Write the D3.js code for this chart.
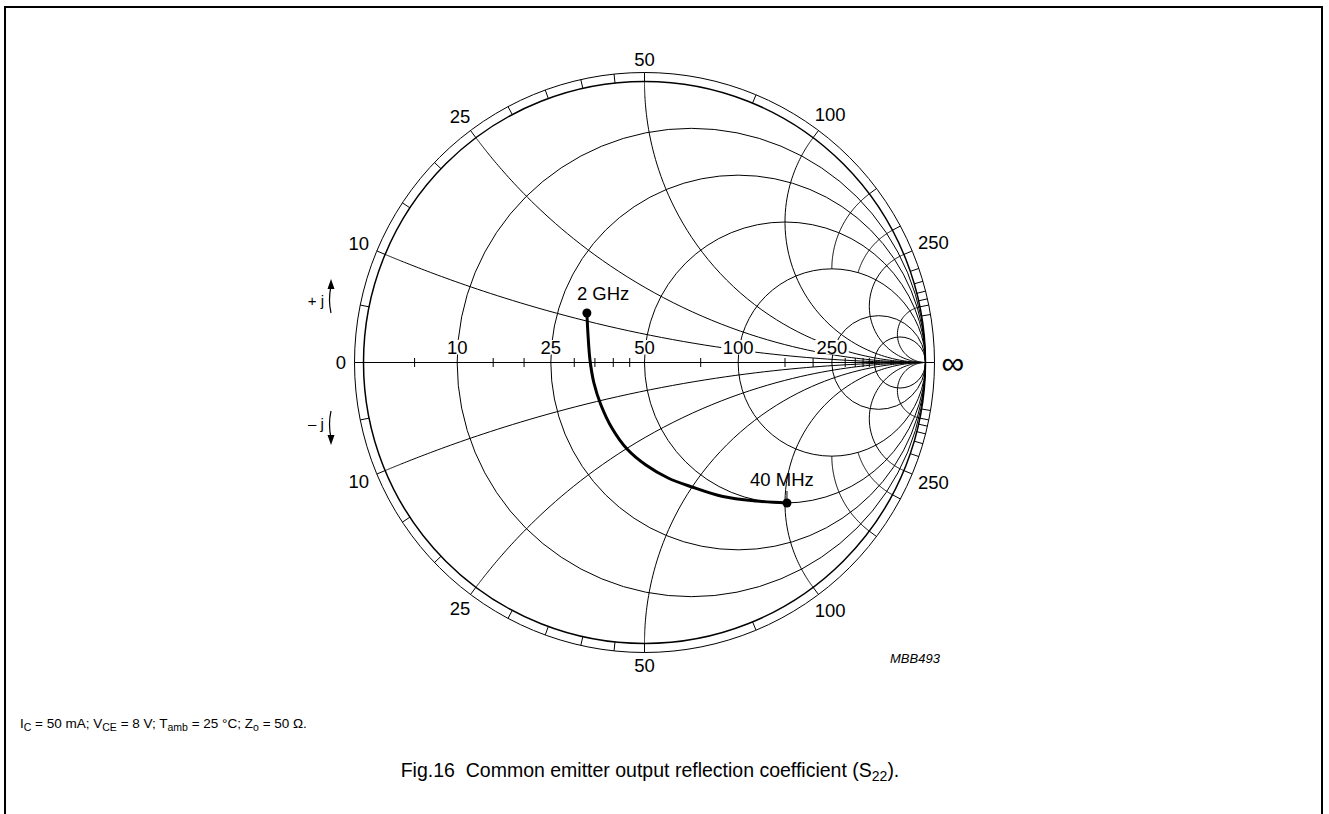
<!DOCTYPE html>
<html>
<head>
<meta charset="utf-8">
<script src="https://cdn.jsdelivr.net/npm/d3@7"></script>
<style>
body { margin: 0; background: #fff; }
svg { font-family: "Liberation Sans", Arial, sans-serif; }
</style>
</head>
<body>
<div id="chart"></div>
<script>
// S22 measured curve (reflection coefficient, real / imag), from 2 GHz down to 40 MHz
const S22_RE = [-0.205, -0.201, -0.194, -0.180, -0.155, -0.116, -0.062, 0.005, 0.084, 0.169, 0.279, 0.397, 0.507];
const S22_IM = [0.176, 0.098, 0.009, -0.073, -0.151, -0.233, -0.308, -0.365, -0.411, -0.443, -0.477, -0.493, -0.500];
const FREQ_LABELS = ["2 GHz", "40 MHz"];

// Smith chart grid, in ohms (Zo = 50)
const Z0 = 50;
const R_CIRCLES = [10, 25, 50, 100, 250, 500];
const X_ARCS = [10, 25, 50, 100, 250, 500];
const X_SHORT = [150, 200];
const AXIS_TICKS = [5, 15, 20, 30, 35, 40, 45, 75, 150, 200, 300, 350, 400, 450];
const RING_TICKS = [5, 15, 20, 30, 35, 40, 45, 75, 150, 200, 300, 350, 400, 450, 500, 600];
const GRID_LABELS = [10, 25, 50, 100, 250];

const WIDTH = 1329;
const HEIGHT = 814;
const CX = 644.5, CY = 362.5, RAD = 281, RING = 290;

const SVG = d3.select("#chart").append("svg")
    .attr("width", WIDTH).attr("height", HEIGHT);

const x = d3.scaleLinear().domain([-1, 1]).range([CX - RAD, CX + RAD]);
const y = d3.scaleLinear().domain([-1, 1]).range([CY + RAD, CY - RAD]);
const line = d3.line().x(d => x(d[0])).y(d => y(d[1]));

// z = r + jx  ->  gamma
function gamma(r, xx) {
    const d = (r + 1) * (r + 1) + xx * xx;
    return [(r * r - 1 + xx * xx) / d, (2 * xx) / d];
}

// frame
SVG.append("rect")
    .attr("x", 5).attr("y", 7).attr("width", 1317).attr("height", 840)
    .attr("fill", "none").attr("stroke", "#000").attr("stroke-width", 2);

const grid = SVG.append("g").attr("fill", "none").attr("stroke", "#000").attr("stroke-width", 1);

// outer scale ring
grid.append("circle").attr("cx", x(0)).attr("cy", y(0)).attr("r", x(RING / RAD) - x(0));
grid.append("circle").attr("cx", x(0)).attr("cy", y(0)).attr("r", x(1) - x(0)).attr("stroke-width", 1.5);

// resistance circles
R_CIRCLES.forEach(R => {
    const r = R / Z0;
    grid.append("circle")
        .attr("cx", x(r / (1 + r)))
        .attr("cy", y(0))
        .attr("r", x(1 / (1 + r)) - x(0));
});

// reactance arcs
const rSamples = [0].concat(d3.range(0, 200).map(i => Math.pow(10, -3 + i * 0.035)));
X_ARCS.forEach(X => {
    [1, -1].forEach(s => {
        grid.append("path").attr("d", line(rSamples.map(r => gamma(r, s * X / Z0))));
    });
});
X_SHORT.forEach(X => {
    [1, -1].forEach(s => {
        const pts = d3.range(0, 2.001, 0.02).map(r => gamma(r, s * X / Z0));
        grid.append("path").attr("d", line(pts));
    });
});

// ticks across the ring
RING_TICKS.concat(GRID_LABELS).forEach(X => {
    const a = Math.PI - 2 * Math.atan(X / Z0);
    [1, -1].forEach(s => {
        const c = Math.cos(a), sn = s * Math.sin(a);
        grid.append("line")
            .attr("x1", x(c)).attr("y1", y(sn))
            .attr("x2", x(c * RING / RAD)).attr("y2", y(sn * RING / RAD));
    });
});

// real axis + ticks
grid.append("line")
    .attr("x1", x(-RING / RAD)).attr("x2", x(RING / RAD))
    .attr("y1", y(0)).attr("y2", y(0));
AXIS_TICKS.forEach(R => {
    const r = R / Z0;
    const g = (r - 1) / (r + 1);
    grid.append("line")
        .attr("x1", x(g)).attr("x2", x(g))
        .attr("y1", y(0) - 4.5).attr("y2", y(0) + 4.5);
});

const labels = SVG.append("g").attr("font-size", 18.5).attr("fill", "#000");

// labels on the real axis, with white backing
GRID_LABELS.forEach(R => {
    const r = R / Z0;
    const g = (r - 1) / (r + 1);
    const bg = labels.append("rect").attr("fill", "#fff");
    const t = labels.append("text")
        .attr("x", x(g)).attr("y", y(0) - 8.5)
        .attr("text-anchor", "middle")
        .text(R);
    const w = t.node().getComputedTextLength();
    bg.attr("x", x(g) - w / 2 - 1.5).attr("y", y(0) - 22.5)
        .attr("width", w + 3).attr("height", 14.5);
});

// labels around the rim
GRID_LABELS.forEach(X => {
    const a = Math.PI - 2 * Math.atan(X / Z0);
    [1, -1].forEach(s => {
        const t = labels.append("text")
            .attr("text-anchor", "middle")
            .attr("dy", "0.35em")
            .text(X);
        const w = t.node().getComputedTextLength();
        const k = (303 + 0.7 * (w / 2) * Math.abs(Math.cos(a))) / RAD;
        t.attr("x", x(Math.cos(a) * k)).attr("y", y(s * Math.sin(a) * k));
    });
});

labels.append("text").attr("x", 341).attr("y", y(0)).attr("dy", "0.35em")
    .attr("text-anchor", "middle").text("0");
labels.append("text").attr("x", 953).attr("y", y(0)).attr("dy", "0.35em")
    .attr("text-anchor", "middle").attr("font-size", 32).text("∞");

// +j / -j arrows
labels.append("text").attr("x", 316).attr("y", 306).attr("text-anchor", "middle").attr("font-size", 15).text("+ j");
labels.append("text").attr("x", 316).attr("y", 429).attr("text-anchor", "middle").attr("font-size", 15).text("– j");
SVG.append("path").attr("d", "M331,313 Q328,300 331,286").attr("fill", "none").attr("stroke", "#000").attr("stroke-width", 1.2);
SVG.append("path").attr("d", "M331,279 L327.5,289 L334.5,289 Z").attr("fill", "#000");
SVG.append("path").attr("d", "M331,411 Q328,424 331,438").attr("fill", "none").attr("stroke", "#000").attr("stroke-width", 1.2);
SVG.append("path").attr("d", "M331,445 L327.5,435 L334.5,435 Z").attr("fill", "#000");

// S22 curve
const pts = S22_RE.map((v, i) => [v, S22_IM[i]]);
SVG.append("path")
    .attr("d", d3.line().x(d => x(d[0])).y(d => y(d[1])).curve(d3.curveCatmullRom)(pts))
    .attr("fill", "none").attr("stroke", "#000").attr("stroke-width", 3);

const ends = [pts[0], pts[pts.length - 1]];
SVG.selectAll(".endpoint").data(ends).join("circle")
    .attr("class", "endpoint")
    .attr("cx", d => x(d[0])).attr("cy", d => y(d[1])).attr("r", 4.5)
    .attr("fill", "#000");

labels.append("text").attr("x", x(ends[0][0]) - 10).attr("y", y(ends[0][1]) - 13).text(FREQ_LABELS[0]);
labels.append("text").attr("x", x(ends[1][0]) - 5).attr("y", y(ends[1][1]) - 17)
    .attr("text-anchor", "middle").text(FREQ_LABELS[1]);
SVG.append("line")
    .attr("x1", x(ends[1][0])).attr("x2", x(ends[1][0]))
    .attr("y1", y(ends[1][1]) - 12).attr("y2", y(ends[1][1]))
    .attr("stroke", "#000").attr("stroke-width", 1);

// figure code
SVG.append("text").attr("x", 890).attr("y", 663)
    .attr("font-size", 13).attr("font-style", "italic").text("MBB493");

// conditions
const cond = SVG.append("text").attr("x", 20).attr("y", 728).attr("font-size", 13.5);
[["I", null], ["C", "sub"], [" = 50 mA; V", null], ["CE", "sub"], [" = 8 V; T", null], ["amb", "sub"],
 [" = 25 °C; Z", null], ["o", "sub"], [" = 50 Ω.", null]].forEach(([s, k]) => {
    const ts = cond.append("tspan").text(s);
    if (k === "sub") ts.attr("font-size", 10.5).attr("dy", 3);
    else if (s !== "I") ts.attr("dy", -3);
});

// caption
const cap = SVG.append("text").attr("x", 650).attr("y", 777).attr("font-size", 19.5)
    .attr("text-anchor", "middle").style("white-space", "pre");
cap.append("tspan").text("Fig.16  Common emitter output reflection coefficient (S");
cap.append("tspan").text("22").attr("font-size", 14).attr("dy", 4);
cap.append("tspan").text(").").attr("dy", -4);
</script>
</body>
</html>
